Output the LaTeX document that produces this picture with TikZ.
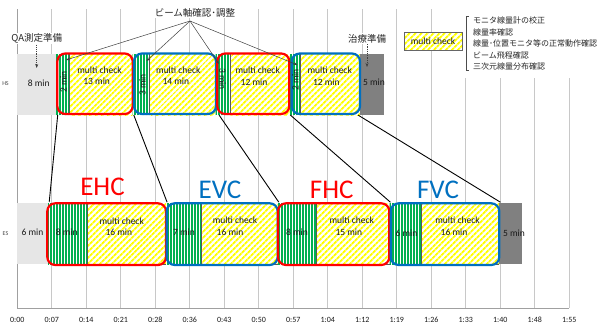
\documentclass[tikz,border=0pt]{standalone}
\usepackage{fontspec}
\setmainfont{Carlito}
\newfontfamily\jp{Noto Sans CJK JP}
\usetikzlibrary{patterns.meta,arrows.meta}
\definecolor{gridc}{HTML}{C8C8C8}
\definecolor{axisc}{HTML}{A0A0A0}
\definecolor{lgray}{HTML}{E6E6E6}
\definecolor{dgray}{HTML}{808080}
\definecolor{mygreen}{HTML}{00B050}
\definecolor{myyellow}{HTML}{FFFF00}
\definecolor{myred}{HTML}{FF0000}
\definecolor{myblue}{HTML}{0070C0}
\tikzset{
  greenseg/.style={preaction={fill=white}, pattern={Lines[angle=90,distance=3pt,line width=1.3pt]}, pattern color=mygreen},
  yellowseg/.style={preaction={fill=white}, pattern={Lines[angle=45,distance=4pt,line width=2.1pt]}, pattern color=myyellow},
  segline/.style={draw=black!65, line width=0.6pt},
  hbox/.style={draw, line width=2.2pt, rounded corners=8pt, minimum width=#1, minimum height=60.5pt, inner sep=0pt},
  ebox/.style={draw, line width=2.2pt, rounded corners=8pt, minimum width=#1, minimum height=61.7pt, inner sep=0pt},
  txt/.style={font=\fontsize{9.5}{11}\selectfont, text=black!90, inner sep=0pt},
  tick/.style={font=\fontsize{8}{10}\selectfont, text=black!90, inner sep=0pt},
  big/.style={font=\fontsize{27}{30}\selectfont, inner sep=0pt},
  jplab/.style={font=\jp\fontsize{9.5}{11}\selectfont, text=black!85, fill=white, inner sep=1pt},
  jpleg/.style={font=\jp\fontsize{8}{10}\selectfont, text=black!85, inner sep=0pt, anchor=west},
  conn/.style={draw=black, line width=0.9pt},
  beamarrow/.style={draw=black!75, line width=0.5pt, -{Stealth[length=4pt,width=3pt]}},
  prepar/.style={draw=black!75, line width=0.5pt, dash pattern=on 1.2pt off 1pt, -{Stealth[length=4pt,width=3pt]}},
  rowlab/.style={font=\fontsize{6}{7}\selectfont, text=black!70, inner sep=0pt}
}
\begin{document}
\begin{tikzpicture}[x=1pt,y=-1pt]
\useasboundingbox (0,0) rectangle (601,327);
\fill[white] (0,0) rectangle (601,327);
% grid
\foreach \i in {1,...,16} {
  \draw[gridc, line width=0.8pt] ({17.3+34.5*\i},9) -- ({17.3+34.5*\i},308);
}
\draw[axisc, line width=0.8pt] (17.3,9) -- (17.3,308) -- (569.3,308);
\foreach \lab [count=\i from 0] in {0:00,0:07,0:14,0:21,0:28,0:36,0:43,0:50,0:57,1:04,1:12,1:19,1:26,1:33,1:40,1:48,1:55} {
  \node[tick] (tk\i) at ({17.3+34.5*\i},320) {\lab};
}
% legend text area
\fill[white] (463,0) rectangle (601,77.5);
% row labels
\node[rowlab] (hs) at (5.5,84) {HS};
\node[rowlab] (es) at (5.5,233.5) {ES};
% HS bars
\fill[lgray] (17.3,54) rectangle (55.6,115);
\path[greenseg] (55.6,54) rectangle (69.3,115);
\path[yellowseg] (69.3,54) rectangle (132.5,115);
\path[greenseg] (132.5,54) rectangle (149.3,115);
\path[yellowseg] (149.3,54) rectangle (215.5,115);
\path[greenseg] (215.5,54) rectangle (230.7,115);
\path[yellowseg] (230.7,54) rectangle (289.5,115);
\path[greenseg] (289.5,54) rectangle (300,115);
\path[yellowseg] (300,54) rectangle (360,115);
\fill[dgray] (360,54) rectangle (384,115);
\foreach \x in {69.3,149.3,230.7,300} { \draw[segline] (\x,54) -- (\x,114); }
% ES bars
\fill[lgray] (17.3,203.3) rectangle (48,264);
\path[greenseg] (48,203.3) rectangle (87.3,264);
\path[yellowseg] (87.3,203.3) rectangle (166,264);
\path[greenseg] (166,203.3) rectangle (201,264);
\path[yellowseg] (201,203.3) rectangle (277.5,264);
\path[greenseg] (277.5,203.3) rectangle (316,264);
\path[yellowseg] (316,203.3) rectangle (389.5,264);
\path[greenseg] (389.5,203.3) rectangle (421.7,264);
\path[yellowseg] (421.7,203.3) rectangle (499.3,264);
\fill[dgray] (499.3,203.3) rectangle (521.7,264);
\foreach \x in {87.3,201,316,421.7} { \draw[segline] (\x,203.3) -- (\x,264); }
\draw[segline] (87.3,264) -- (166,264) (201,264) -- (277.5,264) (316,264) -- (389.5,264) (421.7,264) -- (499.3,264);
% HS boxes
\node[hbox=75.4pt, draw=myred] (h1) at (95,83.75) {};
\node[hbox=82pt, draw=myblue] (h2) at (175,83.75) {};
\node[hbox=72pt, draw=myred] (h3) at (253.3,83.75) {};
\node[hbox=68.3pt, draw=myblue] (h4) at (325.85,83.75) {};
% ES boxes
\node[ebox=118.7pt, draw=myred] (e1) at (106.65,234.15) {};
\node[ebox=111pt, draw=myblue] (e2) at (222.2,234.15) {};
\node[ebox=111.3pt, draw=myred] (e3) at (333.65,234.15) {};
\node[ebox=108.6pt, draw=myblue] (e4) at (445,234.15) {};
% connectors
\draw[conn] ([xshift=1.5pt]h1.south west) -- ([xshift=3pt]e1.north west);
\draw[conn] (h1.south east) -- (e1.north east);
\draw[conn] ([xshift=2pt]h2.south east) -- (e2.north east);
\draw[conn] (h3.south east) -- (e3.north east);
\draw[conn] ([xshift=-3pt]h4.south east) -- (e4.north east);
% HS texts
\node[txt] (hs8) at (38.8,83.3) {8 min};
\node[txt] (mc1) at (99.5,70.7) {multi check};
\node[txt] (d1) at (96.7,81.7) {13 min};
\node[txt] (mc2) at (178.3,70) {multi check};
\node[txt] (d2) at (175.8,81.7) {14 min};
\node[txt] (mc3) at (257.7,70) {multi check};
\node[txt] (d3) at (254,82.3) {12 min};
\node[txt] (mc4) at (329.7,70) {multi check};
\node[txt] (d4) at (326.3,82) {12 min};
\node[txt] (hs5) at (374,82.7) {5 min};
\node[txt, rotate=90] (v1) at (63.3,82) {2 min};
\node[txt, rotate=90] (v2) at (142.3,85) {3 min};
\node[txt, rotate=-90] (v3) at (222.5,79) {3 min};
\node[txt, rotate=90] (v4) at (295.3,80) {2 min};
% ES texts
\node[txt] (es6) at (32.5,232.7) {6 min};
\node[txt] (g1) at (66.7,232) {8 min};
\node[txt] (m1) at (121.7,221) {multi check};
\node[txt] (n1) at (118.8,232.7) {16 min};
\node[txt] (g2) at (184,232) {7 min};
\node[txt] (m2) at (235,220) {multi check};
\node[txt] (n2) at (230,232) {16 min};
\node[txt] (g3) at (297,232) {8 min};
\node[txt] (m3) at (351.7,220) {multi check};
\node[txt] (n3) at (348.8,232) {15 min};
\node[txt] (g4) at (406.5,233) {6 min};
\node[txt] (m4) at (457.5,220) {multi check};
\node[txt] (n4) at (454,232) {16 min};
\node[txt] (es5) at (514,233) {5 min};
% big labels
\node[big, text=myred] (ehc) at (102.5,186.5) {EHC};
\node[big, text=myblue] (evc) at (220,190) {EVC};
\node[big, text=myred] (fhc) at (331.7,190) {FHC};
\node[big, text=myblue] (fvc) at (438,190) {FVC};
% annotations
\node[jplab] (beam) at (195,12.5) {ビーム軸確認･調整};
\coordinate (bsrc) at (190,21);
\coordinate (t1) at (66,60);
\coordinate (t2) at (146.5,61);
\coordinate (t3) at (219,64);
\coordinate (t4) at (297.5,65);
\foreach \t in {t1,t2,t3,t4} { \draw[beamarrow] (bsrc) -- (\t); }
\node[jplab] (qa) at (36.7,38.5) {QA測定準備};
\coordinate (qatip) at (36.7,68);
\draw[prepar] (qa.south) -- (qatip);
\node[jplab] (tr) at (367,38.5) {治療準備};
\coordinate (trtip) at (367,67);
\draw[prepar] (tr.south) -- (trtip);
% legend
\node[yellowseg, draw=black!60, line width=0.6pt, minimum width=58pt, minimum height=18pt, font=\fontsize{9.5}{11}\selectfont, text=black!90, inner sep=0pt] (leg) at (433,41) {multi check};
\draw[black!70, line width=0.6pt] (469,16) -- (466,16) -- (466,70) -- (469,70);
\node[jpleg] (l1) at (473,20.7) {モニタ線量計の校正};
\node[jpleg] (l2) at (473,32) {線量率確認};
\node[jpleg] (l3) at (473,43.5) {線量･位置モニタ等の正常動作確認};
\node[jpleg] (l4) at (473,55) {ビーム飛程確認};
\node[jpleg] (l5) at (473,66.3) {三次元線量分布確認};
\end{tikzpicture}
\end{document}
